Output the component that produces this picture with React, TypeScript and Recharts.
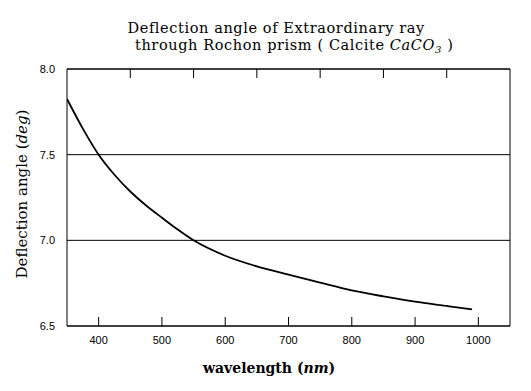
import React from 'react';
import { LineChart, Line, XAxis, YAxis, CartesianGrid, ReferenceArea } from 'recharts';

const wavelengths = [350, 375, 400, 425, 450, 475, 500, 525, 550, 600, 650, 700, 750, 800, 850, 900, 950, 990];
const deflection = [7.825, 7.652, 7.5, 7.383, 7.285, 7.203, 7.132, 7.063, 7.0, 6.91, 6.848, 6.8, 6.753, 6.708, 6.673, 6.642, 6.617, 6.597];
const bottomTicks = [400, 500, 600, 700, 800, 900, 1000];
const topTicks = [450, 550, 650, 750, 850, 950];
const yTicks = [6.5, 7.0, 7.5, 8.0];

const data = wavelengths.map((x, i) => ({ x, y: deflection[i] }));

const BottomTick = (props: any) => {
  const { x, y, payload } = props;
  return (
    <g>
      <line x1={x} y1={y} x2={x} y2={y - 9} stroke="#000" strokeWidth={1} />
      <text x={x} y={y + 18} textAnchor="middle" fontFamily="Liberation Sans" fontSize={11} fill="#000">
        {payload.value}
      </text>
    </g>
  );
};

const TopTick = (props: any) => {
  const { x, y } = props;
  return <line x1={x} y1={y} x2={x} y2={y + 9} stroke="#000" strokeWidth={1} />;
};

const serif = 'DejaVu Serif';

export default function App() {
  return (
    <div style={{ position: 'absolute', left: 0, top: 0, width: 531, height: 391, background: '#fff' }}>
      <LineChart width={531} height={391} data={data} margin={{ top: 49, right: 21, bottom: 0, left: 0 }}>
        <CartesianGrid xAxisId="b" vertical={false} stroke="#000" strokeOpacity={1} />
        <XAxis
          xAxisId="b"
          dataKey="x"
          type="number"
          domain={[350, 1050]}
          ticks={bottomTicks}
          allowDataOverflow
          height={65}
          axisLine={false}
          tickLine={false}
          tickSize={0}
          tickMargin={0}
          tick={<BottomTick />}
          interval={0}
        />
        <XAxis
          xAxisId="t"
          orientation="top"
          dataKey="x"
          type="number"
          domain={[350, 1050]}
          ticks={topTicks}
          allowDataOverflow
          height={20}
          axisLine={false}
          tickLine={false}
          tickSize={0}
          tickMargin={0}
          tick={<TopTick />}
          interval={0}
        />
        <YAxis
          type="number"
          domain={[6.5, 8.0]}
          ticks={yTicks}
          allowDataOverflow
          width={67}
          axisLine={false}
          tickLine={false}
          tickSize={0}
          tickMargin={12}
          interval={0}
          tickFormatter={(v: number) => v.toFixed(1)}
          tick={{ fontFamily: 'Liberation Sans', fontSize: 11, fill: '#000' }}
        />
        <ReferenceArea xAxisId="b" x1={350} x2={1050} y1={6.5} y2={8.0} fill="none" stroke="#000" strokeWidth={1} fillOpacity={0} />
        <Line
          xAxisId="b"
          type="monotone"
          dataKey="y"
          stroke="#000"
          strokeWidth={1.8}
          dot={false}
          isAnimationActive={false}
        />
      </LineChart>
      <svg width={531} height={391} style={{ position: 'absolute', left: 0, top: 0, pointerEvents: 'none' }}>
        <text x={127.5} y={33} fontFamily={serif} fontSize={14.5} letterSpacing={0.6} fill="#000">
          Deflection angle of Extraordinary ray
        </text>
        <text x={135} y={50} fontFamily={serif} fontSize={14.5} letterSpacing={0.6} fill="#000">
          through Rochon prism ( Calcite <tspan fontStyle="italic">CaCO</tspan>
          <tspan fontStyle="italic" fontSize={10} dy={3}>3</tspan>
          <tspan dy={-3}> )</tspan>
        </text>
        <text transform="translate(27,194) rotate(-90)" textAnchor="middle" fontFamily={serif} fontSize={15} fill="#000">
          Deflection angle (<tspan fontStyle="italic">deg</tspan>)
        </text>
        <text x={203} y={373} fontFamily={serif} fontSize={14} fontWeight="bold" fill="#000">
          wavelength (<tspan fontStyle="italic">nm</tspan>)
        </text>
      </svg>
    </div>
  );
}
